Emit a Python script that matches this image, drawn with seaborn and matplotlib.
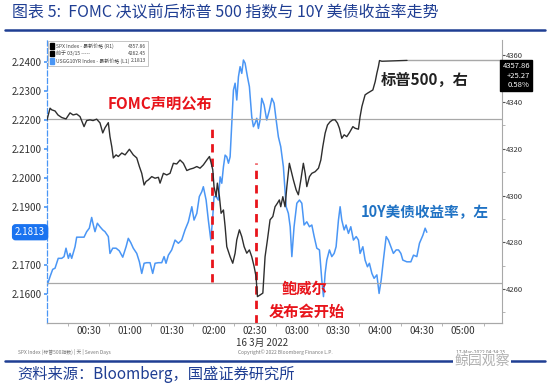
import numpy as np
import pandas as pd
import matplotlib
matplotlib.use("Agg")
import matplotlib.pyplot as plt
import seaborn as sns

# ---------------- data (minutes after 00:00, 16 Mar 2022) ----------------
spx_min = [0, 2.2, 3.4, 5.8, 7.9, 10.6, 13.7, 16.6, 18.8, 21.4, 23.8, 26.7, 28.6, 31.0, 33.2,
           35.8, 38.2, 40.2, 41.8, 44.2, 45.4, 46.7, 47.8, 49.8, 51.4, 53.9, 56.3, 59.4, 62.2,
           64.7, 66.6, 68.3, 70.0, 71.4, 73.1, 75.5, 77.9, 80.3, 81.5, 83.9, 86.3, 88.7, 91.1,
           93.5, 95.9, 98.3, 100.8, 103.1, 105.5, 108.0, 110.3, 112.7, 115.2, 117.1, 118.1,
           119.5, 120.4, 121.9, 122.8, 124.3, 125.5, 127.2, 128.4, 129.6, 132.0, 133.9, 135.6,
           136.8, 138.7, 140.4, 142.1, 144.0, 145.9, 147.6, 149.3, 150.7, 151.7, 153.6, 155.6,
           157.2, 158.9, 160.8, 162.8, 164.4, 166.1, 167.5, 168.5, 170.0, 171.6, 172.9, 174.7,
           176.5, 177.6, 179.6, 181.2, 183.0, 184.8, 186.1, 187.3, 189.2, 190.9, 193.3, 195.7,
           197.4, 198.8, 200.5, 202.2, 204.1, 206.0, 207.7, 209.4, 210.8, 212.5, 214.2, 216.1,
           218.0, 220.5, 222.1, 224.5, 225.7, 227.0, 229.3, 231.0, 232.9, 234.9, 236.6, 237.8,
           238.9, 239.7, 241.4, 259.6]
spx_val = [4332.4, 4337.4, 4336.7, 4336.2, 4334.5, 4333.4, 4332.8, 4335.4, 4334.5, 4334.9,
           4333.8, 4329.5, 4332.1, 4332.4, 4332.1, 4332.7, 4331.1, 4326.8, 4329.0, 4331.2,
           4325.2, 4320.9, 4316.1, 4317.4, 4316.7, 4318.2, 4317.4, 4319.8, 4317.4, 4316.1,
           4312.4, 4309.5, 4304.5, 4306.0, 4306.7, 4308.1, 4307.4, 4307.8, 4305.3, 4309.5,
           4308.8, 4309.5, 4313.8, 4313.5, 4315.2, 4313.8, 4310.7, 4311.3, 4311.7, 4312.4,
           4311.7, 4313.1, 4315.2, 4316.7, 4314.5, 4311.0, 4303.8, 4299.5, 4305.3, 4299.5,
           4292.4, 4293.8, 4286.7, 4278.1, 4273.8, 4271.0, 4275.3, 4281.0, 4285.3, 4282.4,
           4278.1, 4275.3, 4276.7, 4273.8, 4269.6, 4265.3, 4256.7, 4257.4, 4258.2, 4273.8,
           4281.0, 4289.6, 4291.0, 4295.2, 4296.7, 4298.1, 4295.2, 4299.5, 4295.2, 4303.8,
           4313.8, 4309.5, 4306.7, 4302.4, 4300.3, 4306.7, 4313.8, 4309.5, 4303.8, 4308.1,
           4309.5, 4310.2, 4311.7, 4315.2, 4320.9, 4326.7, 4330.2, 4331.6, 4332.4, 4332.4,
           4331.0, 4328.8, 4324.5, 4326.0, 4325.2, 4326.9, 4329.5, 4328.8, 4328.4, 4333.8,
           4338.1, 4343.1, 4343.8, 4344.5, 4345.2, 4348.8, 4352.4, 4355.2, 4357.8, 4357.5,
           4357.86]

ust_min = [0.2, 2.2, 4.1, 5.8, 8.1, 10.6, 12.3, 13.7, 15.4, 16.6, 17.8, 20.2, 21.4, 23.8, 26.7,
           28.6, 30.5, 32.2, 33.4, 34.6, 36.3, 38.2, 40.2, 41.8, 44.2, 45.4, 47.4, 49.8, 52.1,
           54.6, 57.0, 58.6, 60.4, 62.2, 64.7, 66.6, 68.3, 70.0, 71.9, 74.3, 76.2, 77.9, 80.3,
           82.7, 84.4, 85.8, 87.5, 89.9, 92.3, 94.7, 97.1, 99.5, 101.9, 104.4, 106.0, 108.0,
           109.8, 111.6, 112.7, 114.7, 116.3, 118.1, 119.5, 120.4, 121.9, 123.5, 124.8, 126.0,
           127.2, 128.4, 129.6, 130.8, 132.0, 133.2, 134.4, 135.6, 136.8, 138.0, 139.2, 140.4,
           141.6, 142.8, 144.5, 145.9, 147.6, 148.8, 150.0, 151.2, 152.4, 153.6, 154.8, 156.5,
           158.4, 160.3, 162.1, 163.7, 165.2, 166.8, 168.5, 170.4, 172.4, 174.0, 175.3, 176.5,
           178.1, 180.1, 182.0, 183.7, 185.3, 187.3, 189.2, 190.9, 192.6, 194.5, 196.4, 198.1,
           199.3, 200.5, 201.7, 203.6, 205.3, 207.0, 208.4, 210.1, 211.3, 212.5, 214.2, 215.6,
           217.3, 219.0, 220.9, 222.9, 224.5, 225.7, 227.7, 229.3, 231.0, 232.4, 234.2, 235.8,
           237.8, 239.4, 240.9, 242.5, 244.5, 246.1, 247.9, 249.7, 251.7, 253.4, 255.1, 256.5,
           259.4, 262.3, 264.2, 266.6, 268.5, 271.0, 272.6, 273.8]
ust_val = [2.1631, 2.1660, 2.1685, 2.1689, 2.1723, 2.1723, 2.1729, 2.1758, 2.1723, 2.1740,
           2.1723, 2.1763, 2.1796, 2.1796, 2.1796, 2.1815, 2.1827, 2.1864, 2.1838, 2.1815,
           2.1844, 2.1832, 2.1821, 2.1815, 2.1798, 2.1740, 2.1758, 2.1758, 2.1749, 2.1727,
           2.1763, 2.1792, 2.1777, 2.1758, 2.1740, 2.1711, 2.1671, 2.1706, 2.1708, 2.1708,
           2.1671, 2.1706, 2.1708, 2.1708, 2.1729, 2.1706, 2.1734, 2.1752, 2.1786, 2.1775,
           2.1786, 2.1821, 2.1849, 2.1901, 2.1855, 2.1878, 2.1936, 2.1953, 2.1970, 2.1924,
           2.1855, 2.1786, 2.1867, 2.1936, 2.1936, 2.1924, 2.2004, 2.1982, 2.2039, 2.2079,
           2.2073, 2.2051, 2.2073, 2.2189, 2.2303, 2.2327, 2.2269, 2.2349, 2.2384, 2.2361,
           2.2407, 2.2396, 2.2349, 2.2315, 2.2211, 2.2177, 2.2189, 2.2206, 2.2171, 2.2200,
           2.2275, 2.2252, 2.2200, 2.2234, 2.2275, 2.2258, 2.2200, 2.2142, 2.2108, 2.2039,
           2.1901, 2.1878, 2.1832, 2.1729, 2.1832, 2.1913, 2.1924, 2.1913, 2.1838, 2.1849,
           2.1832, 2.1838, 2.1798, 2.1758, 2.1752, 2.1648, 2.1591, 2.1671, 2.1717, 2.1752,
           2.1729, 2.1740, 2.1763, 2.1855, 2.1901, 2.1855, 2.1821, 2.1838, 2.1809, 2.1832,
           2.1786, 2.1798, 2.1786, 2.1740, 2.1763, 2.1717, 2.1694, 2.1706, 2.1671, 2.1654,
           2.1666, 2.1602, 2.1648, 2.1717, 2.1798, 2.1786, 2.1763, 2.1740, 2.1752, 2.1752,
           2.1740, 2.1717, 2.1711, 2.1711, 2.1734, 2.1729, 2.1775, 2.1803, 2.1827, 2.1813]

x_tick_min = [30, 60, 90, 120, 150, 180, 210, 240, 270, 300]
x_tick_labels = ["00:30", "01:00", "01:30", "02:00", "02:30", "03:00", "03:30", "04:00", "04:30", "05:00"]
left_ticks = [2.16, 2.17, 2.18, 2.19, 2.20, 2.21, 2.22, 2.23, 2.24]
right_ticks = [4260, 4280, 4300, 4320, 4340, 4360]

spx_last = 4357.86
spx_prev_close = 4332.59
spx_prior_ref = 4262.45
ust_last = 2.1813
fomc_min = 119
presser_min = 150.5

# ---------------- style ----------------
sns.set_style("white")
plt.rcParams['font.family'] = ['Noto Sans CJK SC', 'DejaVu Sans']
plt.rcParams['axes.unicode_minus'] = False

BLUE = "#4a96f5"
BLACK = "#2e2e2e"
RED = "#e8141b"
NAVY = "#1f3e93"
GRAY = "#a8a8a8"
TXT = "#333333"

W, H = 550, 386
fig = plt.figure(figsize=(W / 100, H / 100), dpi=100)
L, R, T, B = 47, 502, 40, 323
ax = fig.add_axes([L / W, 1 - B / H, (R - L) / W, (B - T) / H])
ax2 = ax.twinx()

ust_df = pd.DataFrame({"t": ust_min, "v": ust_val})
spx_df = pd.DataFrame({"t": spx_min, "v": spx_val})

sns.lineplot(data=ust_df, x="t", y="v", ax=ax, color=BLUE, lw=1.1, sort=False)
sns.lineplot(data=spx_df, x="t", y="v", ax=ax2, color=BLACK, lw=1.0, sort=False)

ax.set_xlim(0, 328)
ax.set_ylim(2.15, 2.2476)
ax2.set_ylim(4245.4, 4366.6)

# reference lines
ax2.axhline(spx_prev_close, color=GRAY, lw=0.9, zorder=1)
ax2.axhline(spx_prior_ref, color=GRAY, lw=0.9, zorder=1)
ax2.hlines(spx_last, spx_min[-1], 328, color=GRAY, lw=1.0, zorder=1)

# red dashed event lines
ax.axvline(fomc_min, ymin=0.145, ymax=0.70, color=RED, lw=2, ls=(0, (3, 2.2)), zorder=5)
ax.axvline(presser_min, ymin=0.0, ymax=0.565, color=RED, lw=2, ls=(0, (3, 2.2)), zorder=5)

# axes styling
ax.set_xlabel("")
ax.set_ylabel("")
ax2.set_ylabel("")
for sp in ["top"]:
    ax.spines[sp].set_visible(False)
    ax2.spines[sp].set_visible(False)
ax.spines["right"].set_visible(False)
ax2.spines["left"].set_visible(False)
ax2.spines["right"].set_color(GRAY)
ax2.spines["bottom"].set_color(GRAY)
ax.spines["bottom"].set_color(GRAY)
ax.spines["left"].set_color(BLUE)
ax.spines["left"].set_linestyle((0, (4, 2)))
ax.spines["left"].set_linewidth(0.9)

ax.set_xticks(x_tick_min)
ax.set_xticklabels(x_tick_labels, fontsize=7, color=TXT)
ax.set_xticks([15 + 30 * i for i in range(11)], minor=True)
ax.tick_params(axis="x", which="major", length=0, pad=2)
ax.tick_params(axis="x", which="minor", length=2.5, color=GRAY, bottom=True)

ax.set_yticks(left_ticks)
ax.set_yticklabels([f"{v:.4f}" if abs(v - 2.18) > 1e-6 else "" for v in left_ticks],
                   fontsize=7, color=TXT)
ax.tick_params(axis="y", which="major", length=2.5, color=BLUE, width=1.2, pad=1.5, left=True)

ax2.set_yticks(right_ticks)
ax2.set_yticklabels([str(v) for v in right_ticks], fontsize=5.5, color=TXT)
ax2.set_yticks([4250 + 20 * i for i in range(6)], minor=True)
ax2.tick_params(axis="y", which="major", length=2, color="#555555", pad=1, right=True)
ax2.tick_params(axis="y", which="minor", length=2, color=GRAY, right=True)
ax.grid(False)
ax2.grid(False)

# last value boxes
ax.text(-0.004, ust_last, f"{ust_last:.4f}", transform=ax.get_yaxis_transform(),
        ha="right", va="center", fontsize=7, color="white",
        bbox=dict(boxstyle="round,pad=0.25,rounding_size=0.3", fc="#1a73f0", ec="#1a73f0"))
fig.text(530 / W, 1 - 62 / H, f"{spx_last:.2f}\n+25.27\n0.58%", ha="right", va="top",
         fontsize=5.5, color="white", linespacing=1.25,
         bbox=dict(boxstyle="square,pad=0.3", fc="black", ec="black"))

# legend box
leg_rows = [("SPX Index - 最新价格 (R1)", f"{spx_last:.2f}", "black"),
            ("前于 03/15 -----", f"{spx_prior_ref:.2f}", "black"),
            ("USGG10YR Index - 最新价格 (L1)", f"{ust_last:.4f}", BLUE)]
fig.patches.append(plt.Rectangle((48 / W, 1 - 66 / H), 100 / W, 25 / H, transform=fig.transFigure,
                                 fc="white", ec="#bbbbbb", lw=0.6, zorder=10))
for i, (lab, val, col) in enumerate(leg_rows):
    yy = 1 - (46 + 7.5 * i) / H
    fig.patches.append(plt.Rectangle((50 / W, yy - 2.5 / H), 4 / W, 5 / H, transform=fig.transFigure,
                                     fc=col, ec=col, zorder=11))
    fig.text(56 / W, yy, lab, fontsize=3.6, color="#444444", va="center", ha="left", zorder=12)
    fig.text(146 / W, yy, val, fontsize=3.6, color="#444444", va="center", ha="right", zorder=12)

# annotations
fig.text(160 / W, 1 - 104 / H, "FOMC声明公布", fontsize=11, fontweight="bold", color=RED,
         ha="center", va="center")
fig.text(305 / W, 1 - 289 / H, "鲍威尔", fontsize=11, fontweight="bold", color=RED,
         ha="center", va="center")
fig.text(307 / W, 1 - 312 / H, "发布会开始", fontsize=11, fontweight="bold", color=RED,
         ha="center", va="center")
fig.text(425 / W, 1 - 80 / H, "标普500，右", fontsize=11, fontweight="bold", color="#222222",
         ha="center", va="center")
fig.text(425 / W, 1 - 212 / H, "10Y美债收益率，左", fontsize=10.5, fontweight="bold", color="#1f72c4",
         ha="center", va="center")

# date label
fig.text(262 / W, 1 - 343 / H, "16 3月 2022", fontsize=7, color=TXT, ha="center", va="center")

# footer small texts
fig.text(18 / W, 1 - 352 / H, "SPX Index (标普500指数) | 天 | Seven Days", fontsize=3.5, color="#777777",
         ha="left", va="center")
fig.text(285 / W, 1 - 352 / H, "Copyright© 2022 Bloomberg Finance L.P.", fontsize=3.5, color="#777777",
         ha="center", va="center")
fig.text(505 / W, 1 - 352 / H, "17-Mar-2022 04:34:25", fontsize=3.5, color="#777777",
         ha="right", va="center")

# title, rules, source
fig.text(12 / W, 1 - 13 / H, "图表 5:  FOMC 决议前后标普 500 指数与 10Y 美债收益率走势", fontsize=11.5,
         color=NAVY, ha="left", va="center", style="italic")
fig.add_artist(plt.Line2D([5 / W, 545 / W], [1 - 30 / H, 1 - 30 / H], color=NAVY, lw=1.8))
fig.add_artist(plt.Line2D([5 / W, 545 / W], [1 - 361 / H, 1 - 361 / H], color=NAVY, lw=1.8))
fig.text(17 / W, 1 - 374 / H, "资料来源：Bloomberg，国盛证券研究所", fontsize=11, color=NAVY,
         ha="left", va="center", style="italic")
fig.text(510 / W, 1 - 361 / H, "鲸园观察", fontsize=10, color="#b0b0b0", ha="right", va="center",
         bbox=dict(fc="white", ec="none", pad=1))

fig.savefig("out.png", dpi=100)
